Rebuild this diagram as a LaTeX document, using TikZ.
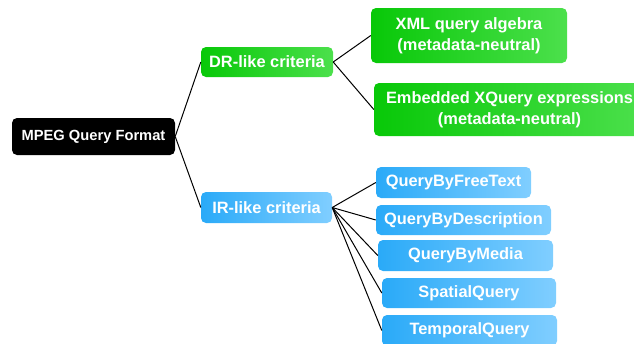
\documentclass[tikz,border=0pt]{standalone}
\usepackage{fontspec}
\setmainfont{Liberation Sans}
\definecolor{gL}{HTML}{08C808}
\definecolor{gR}{HTML}{4CE04C}
\definecolor{bL}{HTML}{2AAAF8}
\definecolor{bR}{HTML}{80CEFF}
\begin{document}
\begin{tikzpicture}[x=1pt,y=-1pt,
  box/.style={rectangle, rounded corners=5pt, inner sep=0pt, text=white,
    font=\bfseries\fontsize{16.4}{21}\selectfont, align=center},
  gbox/.style={box, left color=gL, right color=gR},
  bbox/.style={box, left color=bL, right color=bR},
  root/.style={box, fill=black, font=\bfseries\fontsize{14.7}{18}\selectfont},
  link/.style={draw=black, line width=1pt}]
\useasboundingbox (0,0) rectangle (634,343);
\node[root, minimum width=163pt, minimum height=37pt] (mpeg) at (93.5,136.5) {MPEG Query Format};
\node[gbox, minimum width=132pt, minimum height=30pt] (dr) at (267,62) {DR-like criteria};
\node[bbox, minimum width=131pt, minimum height=31pt] (ir) at (266.5,207.5) {IR-like criteria};
\node[gbox, minimum width=196pt, minimum height=55pt] (xml) at (469,35.5) {XML query algebra\\(metadata-neutral)};
\node[gbox, minimum width=271pt, minimum height=53pt] (emb) at (509.5,109.5) {Embedded XQuery expressions\\(metadata-neutral)};
\node[bbox, minimum width=155pt, minimum height=31pt] (free) at (453.5,182.5) {QueryByFreeText};
\node[bbox, minimum width=175pt, minimum height=30pt] (desc) at (463.5,220) {QueryByDescription};
\node[bbox, minimum width=175pt, minimum height=31pt] (media) at (465.5,255.5) {QueryByMedia};
\node[bbox, minimum width=174pt, minimum height=30pt] (spat) at (469,293) {SpatialQuery};
\node[bbox, minimum width=175pt, minimum height=31pt] (temp) at (469.5,330.5) {TemporalQuery};
\draw[link] (mpeg.east) -- (dr.west);
\draw[link] (mpeg.east) -- (ir.west);
\draw[link] (dr.east) -- (xml.west);
\draw[link] (dr.east) -- (emb.west);
\foreach \n in {free,desc,media,spat,temp} \draw[link] (ir.east) -- (\n.west);
\end{tikzpicture}
\end{document}
